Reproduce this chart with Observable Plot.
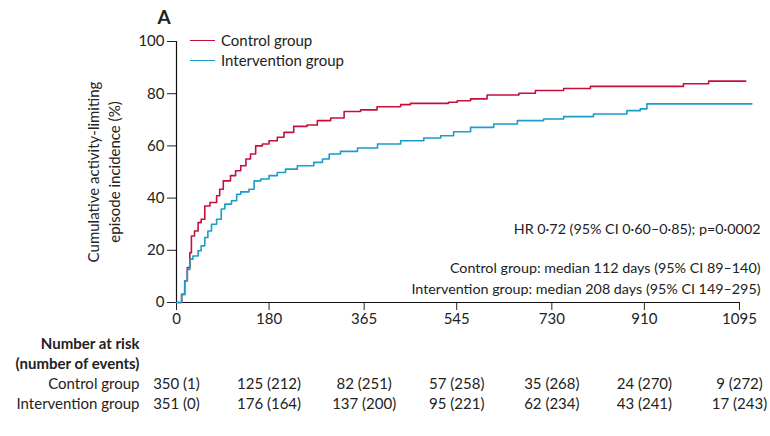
<!DOCTYPE html>
<html>
<head>
<meta charset="utf-8">
<script src="https://cdn.jsdelivr.net/npm/d3@7"></script>
<script src="https://cdn.jsdelivr.net/npm/@observablehq/plot@0.6"></script>
<style>
  html, body { margin: 0; padding: 0; background: #fff; }
  #wrap { position: relative; width: 770px; height: 436px; font-family: Lato, "Open Sans", sans-serif; color: #222; }
  #wrap svg { display: block; }
  .legend { position: absolute; left: 190px; top: 31px; font-size: 15px; line-height: 19.5px; }
  .legend div { display: flex; align-items: center; }
  .legend span.sw { display: inline-block; width: 25px; height: 0; border-top: 1.6px solid; margin-right: 6px; }
</style>
</head>
<body>
<div id="wrap"></div>
<script>
// ---- data ----
const groups = ["Control group", "Intervention group"];
const colors = ["#c5103e", "#1b9dc7"];

const controlDay = [0, 10, 16, 21, 26, 29, 35, 42, 48, 55, 65, 78, 84, 91, 105, 115, 125, 135, 144, 154, 167, 180, 196, 209, 228, 254, 274, 300, 326, 358, 390, 436, 455, 529, 546, 572, 604, 666, 698, 753, 805, 986, 1035, 1107];
const controlPct = [0, 3.1, 8.3, 13.4, 19.1, 25.5, 27.4, 30.6, 31.9, 37, 38.3, 40.9, 43.4, 46.6, 48.6, 50.5, 52.4, 55, 56.9, 60, 60.7, 62, 63.3, 65.2, 67.5, 68, 69.7, 70.7, 73.2, 73.8, 75, 75.8, 76.3, 76.7, 77.3, 78, 79.5, 80.2, 81.2, 82, 82.8, 83.8, 84.8, 84.8];

const interventionDay = [0, 10, 16, 21, 26, 32, 42, 48, 55, 61, 68, 78, 87, 94, 107, 117, 125, 141, 151, 164, 180, 196, 212, 235, 267, 284, 297, 319, 352, 391, 436, 481, 514, 539, 572, 617, 663, 714, 753, 811, 876, 902, 915, 1119];
const interventionPct = [0, 3.1, 8.3, 12.7, 16.6, 17.8, 19.8, 21.7, 24.9, 27.4, 30, 31.9, 35.8, 37.7, 39, 41.5, 42.4, 43.4, 46.6, 47.3, 48.6, 49.8, 51.1, 52.4, 53.7, 55, 56.9, 57.9, 59.2, 60.7, 62, 63, 63.9, 65.4, 67.1, 68.4, 69.7, 70.3, 71.2, 72.2, 73.5, 74.2, 76.1, 76.1];

const tickDays = [0, 180, 365, 545, 730, 910, 1095];
const yTicks = [0, 20, 40, 60, 80, 100];

const riskRows = ["Number at risk", "(number of events)", "Control group", "Intervention group"];
const controlRisk = ["350 (1)", "125 (212)", "82 (251)", "57 (258)", "35 (268)", "24 (270)", "9 (272)"];
const interventionRisk = ["351 (0)", "176 (164)", "137 (200)", "95 (221)", "62 (234)", "43 (241)", "17 (243)"];

const yLabel = "Cumulative activity-limiting\nepisode incidence (%)";
const annotations = [
  "HR 0·72 (95% CI 0·60–0·85); p=0·0002",
  "Control group: median 112 days (95% CI 89–140)",
  "Intervention group: median 208 days (95% CI 149–295)"
];
const annotationDy = [182, 221, 242];

// ---- build tables ----
const curves = [
  ...controlDay.map((d, i) => ({group: groups[0], day: d, pct: controlPct[i]})),
  ...interventionDay.map((d, i) => ({group: groups[1], day: d, pct: interventionPct[i]}))
];
const riskCells = [
  ...tickDays.map((d, i) => ({row: riskRows[2], day: d, text: controlRisk[i]})),
  ...tickDays.map((d, i) => ({row: riskRows[3], day: d, text: interventionRisk[i]}))
];
const annoRows = annotations.map((t, i) => ({t, dy: annotationDy[i]}));

const FONT = "Lato, 'Open Sans', sans-serif";

const main = Plot.plot({
  width: 770, height: 332,
  marginLeft: 176, marginRight: 31, marginTop: 41, marginBottom: 30,
  style: {fontFamily: FONT, fontSize: "15px", color: "#222", background: "transparent"},
  x: {domain: [0, 1095]},
  y: {domain: [0, 100]},
  color: {domain: groups, range: colors},
  marks: [
    Plot.axisX({ticks: tickDays, tickFormat: d => String(d), tickSize: 8, tickPadding: 3, label: null, fontSize: 15}),
    Plot.axisY({ticks: yTicks, tickSize: 9, tickPadding: 3, label: null, fontSize: 15}),
    Plot.ruleX([0], {stroke: "#111", strokeWidth: 1.2}),
    Plot.ruleY([0], {stroke: "#111", strokeWidth: 1.2}),
    Plot.line(curves, {x: "day", y: "pct", z: "group", stroke: "group", curve: "step-after", strokeWidth: 1.6}),
    Plot.text([yLabel], {frameAnchor: "left", textAnchor: "middle", dx: -74, rotate: -90, fontSize: 15, lineHeight: 1.45}),
    Plot.text(["A"], {frameAnchor: "top-left", dx: -19, dy: -31, fontSize: 19, fontWeight: "bold"}),
    ...annoRows.map(a => Plot.text([a.t], {frameAnchor: "top-right", dx: 21, dy: a.dy, textAnchor: "end", fontSize: 14.3}))
  ]
});

const risk = Plot.plot({
  width: 770, height: 104,
  marginLeft: 176, marginRight: 31, marginTop: 0, marginBottom: 0,
  style: {fontFamily: FONT, fontSize: "15px", color: "#222", background: "transparent"},
  x: {domain: [0, 1095], axis: null},
  y: {type: "point", domain: riskRows, range: [12, 72], padding: 0, axis: null},
  marks: [
    Plot.text(riskRows.slice(0, 2), {y: d => d, frameAnchor: "left", dx: -37, textAnchor: "end", fontWeight: "bold"}),
    Plot.text(riskRows.slice(2), {y: d => d, frameAnchor: "left", dx: -37, textAnchor: "end"}),
    Plot.text(riskCells, {x: "day", y: "row", text: "text"})
  ]
});

const wrap = document.getElementById("wrap");
wrap.appendChild(main);
wrap.appendChild(risk);

const legend = document.createElement("div");
legend.className = "legend";
groups.forEach((g, i) => {
  const row = document.createElement("div");
  const sw = document.createElement("span");
  sw.className = "sw";
  sw.style.borderColor = colors[i];
  row.appendChild(sw);
  row.appendChild(document.createTextNode(g));
  legend.appendChild(row);
});
wrap.appendChild(legend);
</script>
</body>
</html>
